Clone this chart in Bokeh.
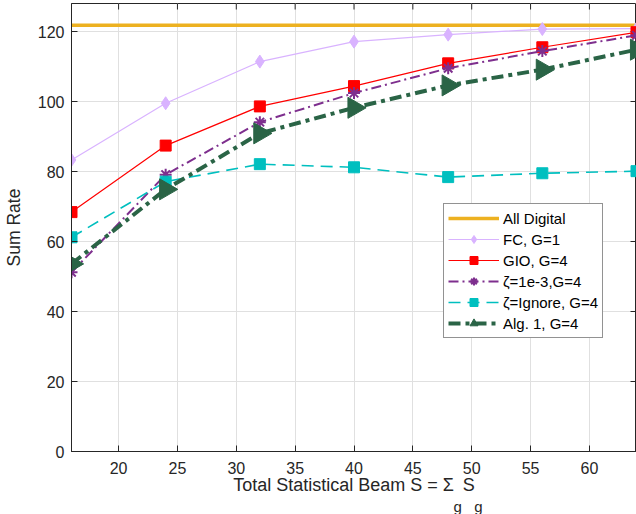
import math
from bokeh.plotting import figure
from bokeh.models import Range1d, FixedTicker, Legend, LegendItem, Title
from bokeh.embed import file_html
from bokeh.resources import INLINE

# ---- data ----
beams = [16, 24, 32, 40, 48, 56, 64]
all_digital = 121.8
fc_g1 = [83.3, 99.5, 111.4, 117.1, 119.1, 120.7, 120.8]
gio_g4 = [68.4, 87.4, 98.6, 104.4, 110.9, 115.5, 119.8]
zeta_1e3_g4 = [51.2, 79.1, 94.1, 102.4, 109.5, 114.4, 118.9]
zeta_ignore_g4 = [61.2, 77.1, 82.1, 81.2, 78.4, 79.5, 80.1]
alg1_g4 = [53.6, 74.9, 90.9, 98.2, 104.6, 109.1, 114.8]
x_ticks = [20, 25, 30, 35, 40, 45, 50, 55, 60]
y_ticks = [0, 20, 40, 60, 80, 100, 120]
x_lim = (16, 64)
y_lim = (0, 128)

FONT = "Liberation Sans"
TXT = "#262626"

p = figure(width=636, height=514, output_backend="svg", toolbar_location=None,
           x_range=Range1d(*x_lim), y_range=Range1d(*y_lim),
           min_border_left=70, min_border_right=0, min_border_top=3, min_border_bottom=63)

p.outline_line_color = TXT
p.outline_line_width = 1
p.background_fill_color = "white"

for ax, ticks in ((p.xaxis[0], x_ticks), (p.yaxis[0], y_ticks)):
    ax.ticker = FixedTicker(ticks=ticks)
    ax.major_tick_in = 6
    ax.major_tick_out = 0
    ax.minor_tick_line_color = None
    ax.axis_line_color = TXT
    ax.major_tick_line_color = TXT
    ax.major_label_text_font = FONT
    ax.major_label_text_font_size = "16px"
    ax.major_label_text_color = TXT
    ax.axis_label_text_font = FONT
    ax.axis_label_text_font_style = "normal"
    ax.axis_label_text_color = TXT

p.xaxis.major_label_standoff = 10
p.yaxis.major_label_standoff = 7
p.yaxis.axis_label = "Sum Rate"
p.yaxis.axis_label_text_font_size = "17.5px"
p.yaxis.axis_label_standoff = 11

p.xaxis.axis_label = "Total Statistical Beam S = Σ\u2002S"
p.xaxis.axis_label_text_font_size = "18px"
p.xaxis.axis_label_standoff = -2

sub = Title(text="g\u00a0\u00a0\u00a0g", align="left", offset=382, standoff=-3,
            text_font=FONT, text_font_size="15px", text_font_style="normal", text_color=TXT)
p.add_layout(sub, "below")

p.xgrid.ticker = FixedTicker(ticks=x_ticks)
p.ygrid.ticker = FixedTicker(ticks=y_ticks)
p.grid.grid_line_color = "#e0e0e0"
p.grid.grid_line_width = 1

# box-style tick marks on the top and right edges (6 px inward)
tick_dy = 6 / 3.5
tick_dx = 6 / (566 / 48)
p.segment(x0=x_ticks, y0=[y_lim[1]] * len(x_ticks), x1=x_ticks, y1=[y_lim[1] - tick_dy] * len(x_ticks),
          line_color=TXT, line_width=1)
p.segment(x0=[x_lim[1]] * len(y_ticks), y0=y_ticks, x1=[x_lim[1] - tick_dx] * len(y_ticks), y1=y_ticks,
          line_color=TXT, line_width=1)

# ---- series ----
r_ad = p.line([beams[0], beams[-1]], [all_digital, all_digital], line_color="#edb120", line_width=3.5)

r_fc_l = p.line(beams, fc_g1, line_color="#d9b3ff", line_width=1.2)
r_fc_m = p.scatter(beams, fc_g1, marker="diamond", size=13, fill_color="#d9b3ff", line_color="#d9b3ff")

r_gio_l = p.line(beams, gio_g4, line_color="#ff0000", line_width=1.2)
r_gio_m = p.scatter(beams, gio_g4, marker="square", size=11, fill_color="#ff0000", line_color="#ff0000")

r_z_l = p.line(beams, zeta_1e3_g4, line_color="#7e2f8e", line_width=2, line_dash="10 4 2 4")
r_z_m = p.scatter(beams, zeta_1e3_g4, marker="asterisk", size=12, line_color="#7e2f8e", line_width=2)

r_zi_l = p.line(beams, zeta_ignore_g4, line_color="#00bfbf", line_width=1.6, line_dash="12 7")
r_zi_m = p.scatter(beams, zeta_ignore_g4, marker="square", size=11, fill_color="#00bfbf", line_color="#00bfbf")

r_a_l = p.line(beams, alg1_g4, line_color="#2a6446", line_width=4, line_dash="12 5 4 5")
r_a_m = p.scatter(beams, alg1_g4, marker="triangle", angle=-math.pi / 2, size=21,
                  fill_color="#2a6446", line_color="#2a6446")

legend = Legend(items=[
    LegendItem(label="All Digital", renderers=[r_ad]),
    LegendItem(label="FC, G=1", renderers=[r_fc_l, r_fc_m]),
    LegendItem(label="GIO, G=4", renderers=[r_gio_l, r_gio_m]),
    LegendItem(label="ζ=1e-3,G=4", renderers=[r_z_l, r_z_m]),
    LegendItem(label="ζ=Ignore, G=4", renderers=[r_zi_l, r_zi_m]),
    LegendItem(label="Alg. 1, G=4", renderers=[r_a_l, r_a_m]),
], location=(372, 113), margin=0, padding=4, spacing=1,
    glyph_width=51, glyph_height=20, label_height=20, label_standoff=4,
    label_text_font=FONT, label_text_font_size="15px", label_text_color="black",
    border_line_color="#262626", border_line_width=1, background_fill_alpha=1.0)
p.add_layout(legend, "center")

open("out.html", "w").write(file_html(p, INLINE))
